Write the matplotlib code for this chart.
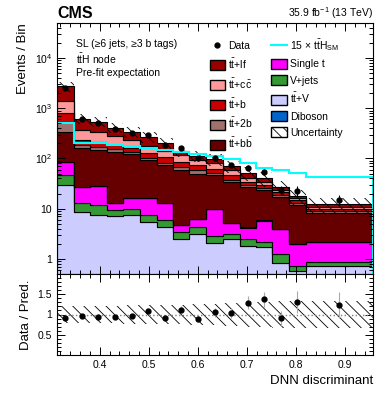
import numpy as np
import matplotlib
matplotlib.use("Agg")
import matplotlib.pyplot as plt
from matplotlib.ticker import FixedLocator, MultipleLocator, FuncFormatter, LogLocator, NullFormatter
from matplotlib.patches import Patch
from matplotlib.lines import Line2D

plt.rcParams['font.family'] = ['Liberation Sans', 'DejaVu Sans']
plt.rcParams['mathtext.fontset'] = 'custom'
plt.rcParams['mathtext.rm'] = 'Liberation Sans'
plt.rcParams['mathtext.it'] = 'Liberation Sans:italic'
plt.rcParams['mathtext.bf'] = 'Liberation Sans:bold'
plt.rcParams['hatch.linewidth'] = 0.6

# bin edges of the DNN discriminant
edges = [0.313, 0.347, 0.381, 0.414, 0.448, 0.482, 0.516, 0.550, 0.583,
         0.617, 0.651, 0.685, 0.719, 0.752, 0.786, 0.820, 0.957]

# background processes, events per bin
tt_v = [29.7, 8.7, 7.5, 7.3, 7.5, 5.5, 4.3, 2.45, 3.1, 2.05, 2.5, 1.8, 1.7, 0.84, 0.58, 0.72]
v_jets = [17.3, 4.5, 4.4, 2.1, 2.2, 2.0, 1.7, 1.05, 1.2, 0.75, 0.6, 0.7, 0.5, 0.41, 0.14, 0.14]
single_t = [39, 13.5, 16.4, 3.4, 6.4, 8.6, 6.8, 1.2, 1.9, 7.1, 2.0, 1.7, 3.6, 2.75, 1.28, 1.34]
diboson = [0.3, 0.1, 0.1, 0.05, 0.05, 0.05, 0.05, 0.03, 0.03, 0.03, 0.02, 0.02, 0.02, 0.01, 0.01, 0.01]
tt_bb = [251, 133, 120, 124, 107, 77, 61, 54, 43, 37, 29.4, 23.2, 17.8, 12.9, 9.9, 6.1]
tt_2b = [198, 26, 24, 16, 10, 8, 9, 8, 10, 5, 2.5, 2.2, 1.8, 1.8, 1.3, 0.6]
tt_b = [265, 48, 44, 33, 29, 26, 22, 19, 15, 10, 10, 4.9, 4.2, 3.1, 1.7, 0.8]
tt_cc = [600, 136, 126, 95, 73, 50, 38, 31, 19, 18, 12, 5.5, 4.9, 1.8, 1.2, 0.9]
tt_lf = [1350, 253, 198, 130, 104, 93, 59, 26, 20, 16, 12, 11, 5.5, 2.9, 1.6, 1.6]

# observed data and scaled signal
data = [2500, 604, 502, 382, 327, 294, 186, 160, 101, 101, 74, 66, 55, 24, 23, 15]
tth_x15 = [517, 206, 200, 186, 177, 160, 148, 137, 123, 114, 96, 80, 64, 59, 51, 43]

# relative uncertainty of the prediction
rel_unc = [0.22, 0.22, 0.22, 0.22, 0.23, 0.23, 0.24, 0.24, 0.25, 0.26,
           0.28, 0.30, 0.32, 0.33, 0.34, 0.34]

# stack order, bottom to top
stack = [
    (tt_v, '#ccccff', r'$\mathrm{t\bar{t}}$+V'),
    (v_jets, '#339933', 'V+jets'),
    (single_t, '#ff00ff', 'Single t'),
    (diboson, '#0066cc', 'Diboson'),
    (tt_bb, '#660000', r'$\mathrm{t\bar{t}}$+$\mathrm{b\bar{b}}$'),
    (tt_2b, '#a0706c', r'$\mathrm{t\bar{t}}$+2b'),
    (tt_b, '#cc0000', r'$\mathrm{t\bar{t}}$+b'),
    (tt_cc, '#ff9999', r'$\mathrm{t\bar{t}}$+$\mathrm{c\bar{c}}$'),
    (tt_lf, '#990000', r'$\mathrm{t\bar{t}}$+lf'),
]

edges = np.array(edges)
centers = 0.5 * (edges[1:] + edges[:-1])
data = np.array(data, dtype=float)
rel_unc = np.array(rel_unc)

fig = plt.figure(figsize=(3.82, 3.94), dpi=100)
W, H = 382.0, 394.0
ax = fig.add_axes([57 / W, 1 - 274 / H, 316 / W, 251 / H])
rax = fig.add_axes([57 / W, 1 - 355 / H, 316 / W, 81 / H])

# stacked histogram
bottom = np.full(len(centers), 1e-3)
for vals, col, lab in stack:
    top = bottom + np.array(vals)
    ax.stairs(top, edges, baseline=bottom, fill=True, facecolor=col,
              edgecolor='black', linewidth=0.8)
    bottom = top
total = bottom

# uncertainty band
ax.stairs(total * (1 + rel_unc), edges, baseline=total * (1 - rel_unc), fill=True,
          facecolor='none', edgecolor='black', linewidth=0, hatch='\\\\\\')

# signal line
ax.stairs(tth_x15, edges, color='#00ffff', linewidth=1.5)

# data
ax.errorbar(centers, data, yerr=np.sqrt(data), fmt='o', color='black',
            markersize=3.5, elinewidth=0.8, capsize=0)

ax.set_yscale('log')
ax.set_ylim(0.5, 5e4)
ax.set_xlim(edges[0], edges[-1])

def log_fmt(v, pos):
    if v == 1:
        return '1'
    if v == 10:
        return '10'
    return r'$10^{%d}$' % int(round(np.log10(v)))

ax.yaxis.set_major_locator(FixedLocator([1, 10, 100, 1000, 10000]))
ax.yaxis.set_major_formatter(FuncFormatter(log_fmt))
ax.yaxis.set_minor_locator(LogLocator(base=10, subs=np.arange(2, 10), numticks=20))
ax.yaxis.set_minor_formatter(NullFormatter())
ax.set_ylabel('Events / Bin', fontsize=9.5, loc='top')

for a in (ax, rax):
    a.xaxis.set_major_locator(MultipleLocator(0.1))
    a.xaxis.set_minor_locator(MultipleLocator(0.02))
    a.tick_params(which='both', direction='in', top=True, right=True, labelsize=7.5, width=0.7)
    a.tick_params(which='major', length=6)
    a.tick_params(which='minor', length=3)
    for s in a.spines.values():
        s.set_linewidth(0.8)
ax.tick_params(labelbottom=False)

# legend
handles = [
    Line2D([], [], marker='o', color='black', linestyle='none', markersize=3.5),
    Patch(facecolor='#990000', edgecolor='black'),
    Patch(facecolor='#ff9999', edgecolor='black'),
    Patch(facecolor='#cc0000', edgecolor='black'),
    Patch(facecolor='#a0706c', edgecolor='black'),
    Patch(facecolor='#660000', edgecolor='black'),
    Line2D([], [], color='#00ffff', linewidth=1.5),
    Patch(facecolor='#ff00ff', edgecolor='black'),
    Patch(facecolor='#339933', edgecolor='black'),
    Patch(facecolor='#ccccff', edgecolor='black'),
    Patch(facecolor='#0066cc', edgecolor='black'),
    Patch(facecolor='white', edgecolor='black', hatch='\\\\\\'),
]
labels = ['Data', stack[8][2], stack[7][2], stack[6][2], stack[5][2], stack[4][2],
          r'15 $\times$ $\mathrm{t\bar{t}H_{SM}}$', 'Single t', 'V+jets',
          stack[0][2], 'Diboson', 'Uncertainty']
ax.legend(handles, labels, ncol=2, loc='upper left', bbox_to_anchor=(0.47, 0.96),
          frameon=False, fontsize=7.5, handlelength=1.5, handleheight=1.1,
          handletextpad=0.3, columnspacing=1.7, labelspacing=0.55, borderaxespad=0)

# annotations
ax.text(0.06, 0.915, u'SL (\u22656 jets, \u22653 b tags)', transform=ax.transAxes,
        fontsize=7.5, va='center')
ax.text(0.06, 0.857, r'$\mathrm{t\bar{t}H}$ node', transform=ax.transAxes,
        fontsize=7.5, va='center')
ax.text(0.06, 0.8, 'Pre-fit expectation', transform=ax.transAxes,
        fontsize=7.5, va='center')
fig.text(57 / W, 1 - 18 / H, 'CMS', fontsize=11.5, fontweight='bold', ha='left', va='baseline')
fig.text(373 / W, 1 - 17 / H, r'35.9 fb$^{-1}$ (13 TeV)', fontsize=7.5, ha='right', va='baseline')

# ratio panel
ratio = data / total
rax.stairs(1 + rel_unc, edges, baseline=1 - rel_unc, fill=True,
           facecolor='none', edgecolor='black', linewidth=0, hatch='\\\\\\')
rax.axhline(1.0, color='gray', linestyle=':', linewidth=1.0)
rax.errorbar(centers, ratio, yerr=np.sqrt(data) / total, fmt='o', color='black',
             markersize=3.5, elinewidth=0.8, ecolor='#aaaaaa', capsize=0)
rax.set_ylim(0, 2)
rax.set_xlim(edges[0], edges[-1])
rax.yaxis.set_major_locator(FixedLocator([0.5, 1.0, 1.5]))
rax.yaxis.set_major_formatter(FuncFormatter(lambda v, p: '%g' % v))
rax.yaxis.set_minor_locator(MultipleLocator(0.1))
rax.xaxis.set_major_formatter(FuncFormatter(lambda v, p: '%.1f' % v))
rax.set_ylabel('Data / Pred.', fontsize=9.5)
rax.set_xlabel('DNN discriminant', fontsize=9.5, loc='right')

fig.savefig('out.png', dpi=100)
